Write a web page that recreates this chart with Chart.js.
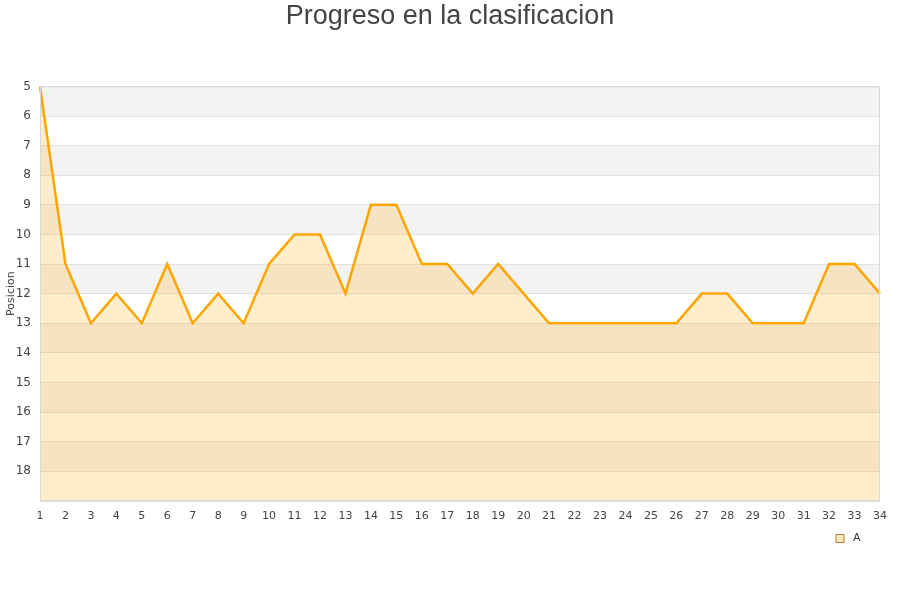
<!DOCTYPE html>
<html>
<head>
<meta charset="utf-8">
<script src="https://cdn.jsdelivr.net/npm/chart.js@4/dist/chart.umd.min.js"></script>
<style>
  html, body { margin: 0; padding: 0; background: #fff; }
  #wrap { width: 900px; height: 600px; }
</style>
</head>
<body>
<div id="wrap"><canvas id="rankingChart" width="900" height="600"></canvas></div>
<script>
// jornadas y posiciones
const jornadas = ['1','2','3','4','5','6','7','8','9','10','11','12','13','14','15','16','17',
    '18','19','20','21','22','23','24','25','26','27','28','29','30','31','32','33','34'];
const posiciones = [5, 11, 13, 12, 13, 11, 13, 12, 13, 11, 10, 10, 12, 9, 9, 11, 11,
    12, 11, 12, 13, 13, 13, 13, 13, 13, 12, 12, 13, 13, 13, 11, 11, 12];
const posMin = 5;
const posMax = 19;

// bandas alternas + borde del area
const bandas = {
    id: 'bandas',
    beforeDraw(chart) {
        const { ctx, chartArea: a, scales: { y } } = chart;
        ctx.save();
        for (let v = posMin; v < posMax; v += 2) {
            const y1 = y.getPixelForValue(v);
            const y2 = y.getPixelForValue(v + 1);
            ctx.fillStyle = '#f3f3f3';
            ctx.fillRect(a.left, y1, a.right - a.left, y2 - y1);
        }
        ctx.restore();
    },
    afterDatasetsDraw(chart) {
        const { ctx, chartArea: a } = chart;
        ctx.save();
        ctx.strokeStyle = '#d8d8d8';
        ctx.lineWidth = 1;
        ctx.strokeRect(a.left + 0.5, a.top + 0.5, a.right - a.left - 1, a.bottom - a.top);
        ctx.restore();
    }
};

const ctx = document.getElementById('rankingChart').getContext('2d');
new Chart(ctx, {
    type: 'line',
    data: {
        labels: jornadas,
        datasets: [{
            label: 'A',
            data: posiciones,
            borderColor: '#ffa500',
            backgroundColor: 'rgba(255, 165, 0, 0.2)',
            borderWidth: 2.5,
            pointRadius: 0,
            tension: 0,
            fill: { value: posMax }
        }]
    },
    options: {
        responsive: false,
        animation: false,
        layout: { padding: { left: 5, right: 20, top: 0, bottom: 46 } },
        plugins: {
            title: {
                display: true,
                text: '  Progreso en la clasificacion',
                color: '#444',
                font: { family: 'Liberation Sans, Arial', size: 27, weight: 'normal' },
                padding: { top: 0, bottom: 54 }
            },
            legend: {
                position: 'bottom',
                align: 'end',
                labels: {
                    boxWidth: 8,
                    boxHeight: 8,
                    padding: 9,
                    color: '#333',
                    font: { family: 'DejaVu Sans', size: 11 },
                    generateLabels: () => [{
                        text: ' A   ',
                        fillStyle: '#ffe6bb',
                        strokeStyle: '#b08040',
                        lineWidth: 1,
                        fontColor: '#333'
                    }]
                }
            },
            tooltip: { enabled: false }
        },
        scales: {
            x: {
                offset: false,
                grid: { display: false },
                border: { display: false },
                ticks: {
                    color: '#444',
                    font: { family: 'DejaVu Sans', size: 11 },
                    padding: 1,
                    maxRotation: 0,
                    autoSkip: false
                }
            },
            y: {
                reverse: true,
                min: posMin,
                max: posMax,
                afterFit: s => { s.width = 35; },
                grid: { color: '#e2e2e2', drawTicks: false },
                border: { display: false },
                title: {
                    display: true,
                    text: 'Posicion',
                    color: '#444',
                    font: { family: 'DejaVu Sans', size: 11 },
                    padding: 0
                },
                ticks: {
                    stepSize: 1,
                    padding: 9,
                    color: '#444',
                    font: { family: 'DejaVu Sans', size: 12 },
                    callback: v => (v === posMax ? '' : v)
                }
            }
        }
    },
    plugins: [bandas]
});
</script>
</body>
</html>
